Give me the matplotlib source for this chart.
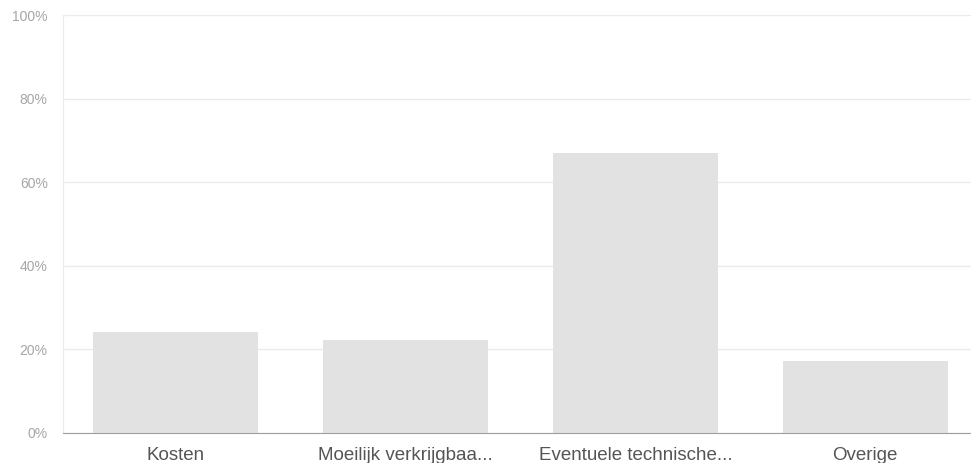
import matplotlib
matplotlib.use("Agg")
from matplotlib import pyplot as plt
from matplotlib.ticker import PercentFormatter

# Data
categories = ["Kosten", "Moeilijk verkrijgbaa...", "Eventuele technische...", "Overige"]
percentages = [24.1, 22.2, 66.9, 17.2]
y_ticks = [0, 20, 40, 60, 80, 100]

plt.rcParams['font.family'] = ['Liberation Sans', 'DejaVu Sans']

fig = plt.figure(figsize=(9.71, 4.63), dpi=100)
ax = fig.add_axes([63 / 971, 30.3 / 463, 1 - 63 / 971, (447.8 - 30.3) / 463])

ax.bar(range(len(categories)), percentages, width=0.72, color='#e2e2e2', zorder=1)

ax.set_ylim(0, 100)
ax.set_xlim(-0.49, 3.46)
ax.set_yticks(y_ticks)
ax.yaxis.set_major_formatter(PercentFormatter(decimals=0))
ax.grid(axis='y', color='#ebebeb', linewidth=1, zorder=0)
ax.set_axisbelow(True)

for side in ['top', 'right']:
    ax.spines[side].set_visible(False)
ax.spines['left'].set_color('#ebebeb')
ax.spines['bottom'].set_color('#9e9e9e')
ax.spines['bottom'].set_zorder(3)

ax.set_xticks(range(len(categories)))
ax.set_xticklabels(categories, fontsize=13.5, color='#555555')
ax.tick_params(axis='x', length=0, pad=10)
ax.tick_params(axis='y', length=0, pad=11, labelsize=10, labelcolor='#a6a6a6')

plt.savefig('out.png', dpi=100)
